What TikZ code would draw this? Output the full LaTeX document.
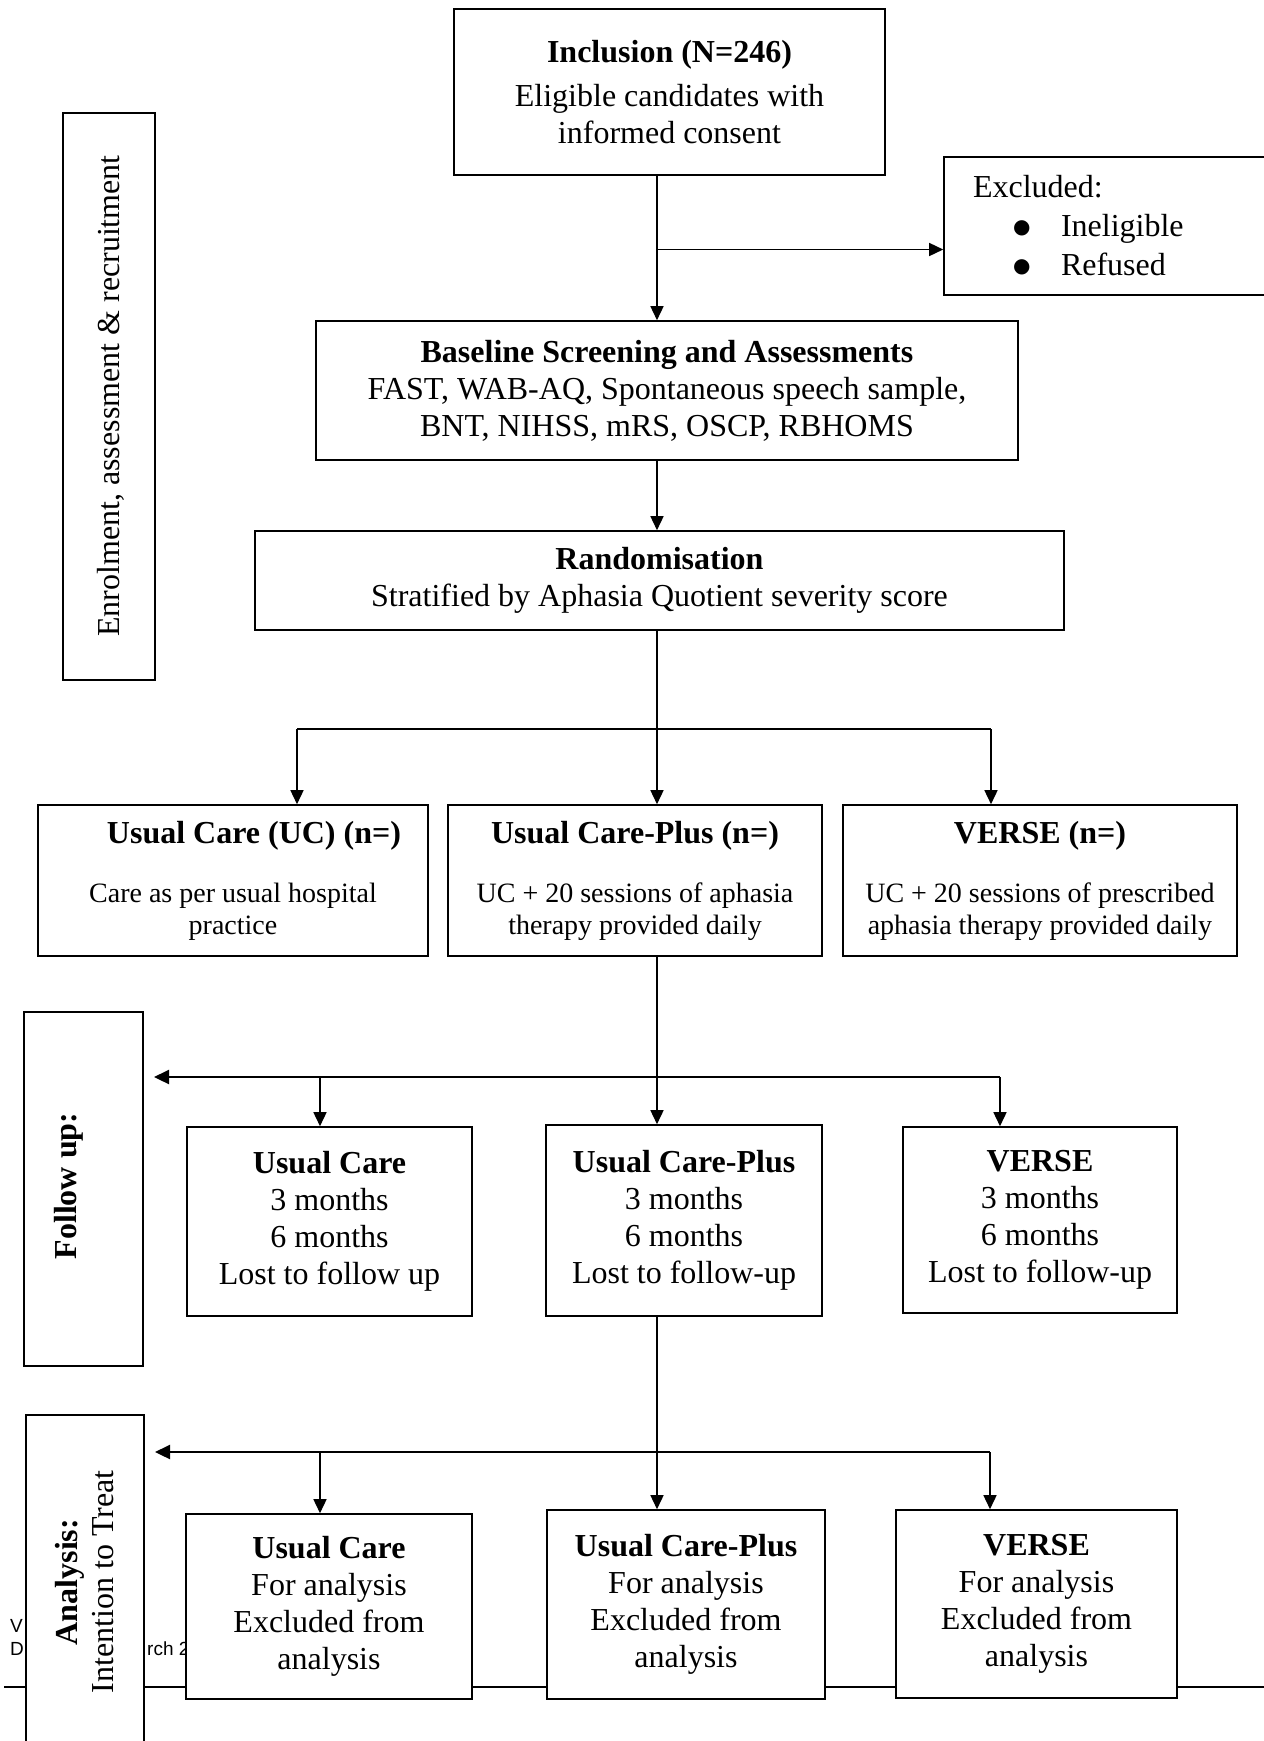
\documentclass[tikz,border=0pt]{standalone}
\usepackage{fontspec}
\setmainfont{Liberation Serif}
\newfontfamily\arialfont{Liberation Sans}
\newfontfamily\symfont{DejaVu Sans}
\usetikzlibrary{arrows.meta}
\tikzset{
  box/.style={draw, line width=1.6pt, fill=white, inner sep=0pt, align=center,
              font=\fontsize{32}{37}\selectfont},
  smallbox/.style={box, font=\fontsize{28}{32}\selectfont},
  sidebox/.style={draw, line width=1.6pt, fill=white, inner sep=0pt},
  sidetext/.style={rotate=90, inner sep=0pt, align=center, font=\fontsize{32}{36}\selectfont},
  foot/.style={anchor=base west, inner sep=0pt, font=\arialfont\fontsize{19}{20}\selectfont},
  arr/.style={line width=1.5pt, -{Triangle[length=14pt,width=13pt]}},
  bus/.style={line width=2.2pt},
  busarr/.style={line width=2.2pt, -{Triangle[length=15pt,width=14pt]}},
}
\newcommand{\titleline}[1]{{\fontsize{32}{37}\selectfont\bfseries #1}}
\newcommand{\bul}[1]{\makebox[88pt][l]{\hspace*{40pt}\raisebox{3pt}{\symfont\fontsize{20}{20}\selectfont ●}}#1}
\begin{document}
\begin{tikzpicture}[x=1pt,y=-1pt]
\useasboundingbox (0,0) rectangle (1264,1741);
\fill[white] (0,0) rectangle (1264,1741);

% footer remnants
\draw[line width=2pt] (4,1687) -- (1264,1687);
\node[foot] (fv) at (10,1632) {V};
\node[foot] (fd) at (10,1655) {D};
\node[foot] (fr) at (147,1655) {rch 2};

% side label boxes
\node[sidebox, minimum width=92, minimum height=567] (enr) at (109,396.5) {};
\node[sidetext] (enrt) at (111,396) {Enrolment, assessment \& recruitment};
\node[sidebox, minimum width=119, minimum height=354] (fol) at (83.5,1189) {};
\node[sidetext, font=\fontsize{32}{36}\selectfont\bfseries] (folt) at (69,1186) {Follow up:};
\node[sidebox, anchor=north west, minimum width=118, minimum height=400] (ana) at (25,1414) {};
\node[sidetext] (anat) at (84.5,1582) {\textbf{Analysis:}\\Intention to Treat};

% main boxes
\node[box, minimum width=431, minimum height=166] (incl) at (669.5,92)
  {\textbf{Inclusion (N=246)}\\[7pt]Eligible candidates with\\informed consent};
\node[box, minimum width=346, minimum height=138, text width=288, align=left,
      font=\fontsize{32}{39}\selectfont] (excl) at (1117,226)
  {Excluded:\\\bul{Ineligible}\\\bul{Refused}};
\node[box, minimum width=702, minimum height=139] (base) at (667,390.5)
  {\textbf{Baseline Screening and Assessments}\\FAST, WAB-AQ, Spontaneous speech sample,\\BNT, NIHSS, mRS, OSCP, RBHOMS};
\node[box, minimum width=809, minimum height=99] (rand) at (659.5,580.5)
  {\textbf{Randomisation}\\Stratified by Aphasia Quotient severity score};

% row 1
\node[smallbox, minimum width=390, minimum height=151] (r1u) at (233,880.5)
  {\hspace*{42pt}\titleline{Usual Care (UC) (n=)}\\[27pt]Care as per usual hospital\\practice};
\node[smallbox, minimum width=374, minimum height=151] (r1p) at (635,880.5)
  {\titleline{Usual Care-Plus (n=)}\\[27pt]UC + 20 sessions of aphasia\\therapy provided daily};
\node[smallbox, minimum width=394, minimum height=151] (r1v) at (1040,880.5)
  {\titleline{VERSE (n=)}\\[27pt]UC + 20 sessions of prescribed\\aphasia therapy provided daily};

% row 2
\node[box, minimum width=285, minimum height=189] (r2u) at (329.5,1221.5)
  {\textbf{Usual Care}\\3 months\\6 months\\Lost to follow up};
\node[box, minimum width=276, minimum height=191] (r2p) at (684,1220.5)
  {\textbf{Usual Care-Plus}\\3 months\\6 months\\Lost to follow-up};
\node[box, minimum width=274, minimum height=186] (r2v) at (1040,1220)
  {\textbf{VERSE}\\3 months\\6 months\\Lost to follow-up};

% row 3
\node[box, minimum width=286, minimum height=185] (r3u) at (329,1606.5)
  {\textbf{Usual Care}\\For analysis\\Excluded from\\analysis};
\node[box, minimum width=278, minimum height=189] (r3p) at (686,1604.5)
  {\textbf{Usual Care-Plus}\\For analysis\\Excluded from\\analysis};
\node[box, minimum width=281, minimum height=188] (r3v) at (1036.5,1604)
  {\textbf{VERSE}\\For analysis\\Excluded from\\analysis};

% connectors
\coordinate (sp) at (657,0);
\draw[arr] (incl.south -| sp) -- (base.north -| sp);
\coordinate (exj) at (657,249.5);
\draw[arr] (exj) -- (exj -| excl.west);
\draw[arr] (base.south -| sp) -- (rand.north -| sp);

\draw[arr] (rand.south -| sp) -- (r1p.north -| sp);
\coordinate (b1l) at (297,729);
\coordinate (b1r) at (991,729);
\draw[bus] (b1l) -- (b1r);
\draw[arr] (b1l) -- (b1l |- r1u.north);
\draw[arr] (b1r) -- (b1r |- r1v.north);

\draw[arr] (r1p.south -| sp) -- (r2p.north -| sp);
\coordinate (b2l) at (320,1077);
\coordinate (b2r) at (1000,1077);
\coordinate (b2t) at (154,1077);
\draw[busarr] (b2r) -- (b2t);
\draw[arr] (b2l) -- (b2l |- r2u.north);
\draw[arr] (b2r) -- (b2r |- r2v.north);

\draw[arr] (r2p.south -| sp) -- (r3p.north -| sp);
\coordinate (b3l) at (320,1452);
\coordinate (b3r) at (990,1452);
\coordinate (b3t) at (155,1452);
\draw[busarr] (b3r) -- (b3t);
\draw[arr] (b3l) -- (b3l |- r3u.north);
\draw[arr] (b3r) -- (b3r |- r3v.north);
\end{tikzpicture}
\end{document}
